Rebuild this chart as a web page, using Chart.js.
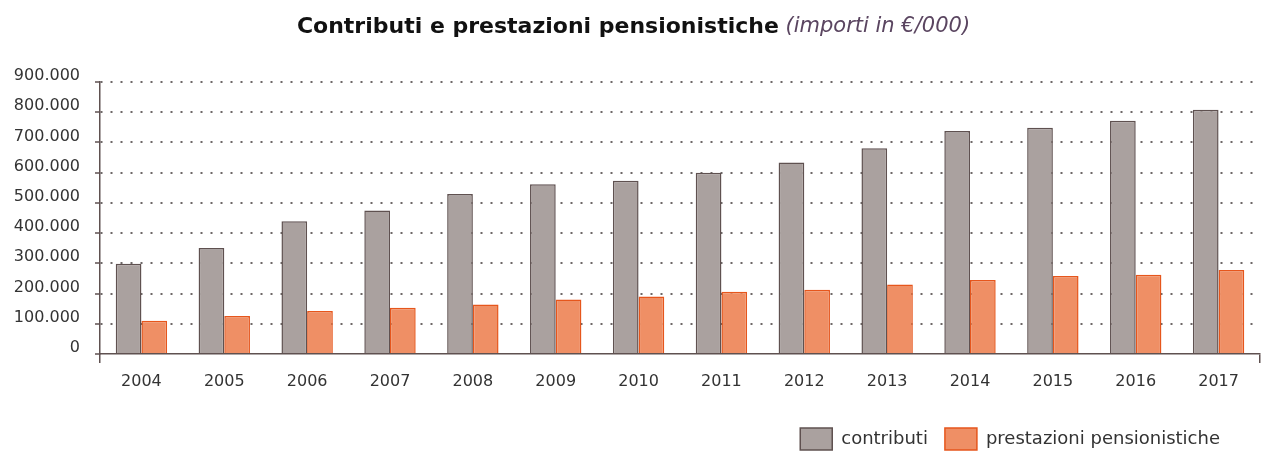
<!DOCTYPE html>
<html>
<head>
<meta charset="utf-8">
<script src="https://cdn.jsdelivr.net/npm/chart.js"></script>
<style>
  html, body { margin: 0; padding: 0; background: #fff; }
</style>
</head>
<body>
<canvas id="chart" width="1267" height="455"></canvas>
<script>
// dati (importi in €/000)
const anni = ['2004', '2005', '2006', '2007', '2008', '2009', '2010', '2011', '2012', '2013', '2014', '2015', '2016', '2017'];
const contributi = [299000, 351000, 439000, 475000, 529000, 562000, 573000, 600000, 634000, 681000, 738000, 749000, 772000, 808000];
const prestazioni = [110000, 126000, 142000, 153000, 164000, 180000, 190000, 206000, 213000, 230000, 245000, 258000, 262000, 278000];
const yTicks = [0, 100000, 200000, 300000, 400000, 500000, 600000, 700000, 800000, 900000];

const font = 'DejaVu Sans';
const scuro = '#5f5150';

// punto come separatore delle migliaia
const migliaia = (v) => String(v).replace(/\B(?=(\d{3})+(?!\d))/g, '.');

// titolo con parte in corsivo
const titolo = {
    id: 'titolo',
    afterDraw(chart) {
        const { ctx } = chart;
        const parte1 = 'Contributi e prestazioni pensionistiche';
        const parte2 = ' (importi in €/000)';
        ctx.save();
        ctx.textBaseline = 'middle';
        ctx.font = 'bold 22px "' + font + '"';
        const w1 = ctx.measureText(parte1).width;
        ctx.font = 'italic 21px "' + font + '"';
        const w2 = ctx.measureText(parte2).width;
        let x = (chart.width - w1 - w2) / 2;
        ctx.font = 'bold 22px "' + font + '"';
        ctx.fillStyle = '#111';
        ctx.fillText(parte1, x, 27);
        ctx.font = 'italic 21px "' + font + '"';
        ctx.fillStyle = '#5a4560';
        ctx.fillText(parte2, x + w1, 27);
        ctx.restore();
    }
}

// legenda un po' piu in basso
const legendMargin = {
    id: 'legendMargin',
    beforeInit(chart) {
        const fitValue = chart.legend.fit;
        chart.legend.fit = function fit() {
            fitValue.bind(chart.legend)();
            this.height -= 5;
        }
    },
    afterLayout(chart) {
        chart.legend.right -= 23;
    }
}

const config = {
    type: 'bar',
    data: {
        labels: anni,
        datasets: [{
            label: 'contributi',
            data: contributi,
            backgroundColor: '#aaa19f',
            borderColor: scuro,
            borderWidth: 1.5
        }, {
            label: 'prestazioni pensionistiche',
            data: prestazioni,
            backgroundColor: '#ef8f65',
            borderColor: '#e6561c',
            borderWidth: 1.5
        }]
    },
    options: {
        responsive: false,
        animation: false,
        layout: {
            padding: { top: 82, right: 7, bottom: 0, left: 0 }
        },
        datasets: {
            bar: { categoryPercentage: 0.62, barPercentage: 1 }
        },
        scales: {
            x: {
                afterFit(scale) { scale.height = 57; },
                grid: {
                    drawOnChartArea: false,
                    offset: true,
                    tickLength: 9,
                    lineWidth: 1.5,
                    color: (c) => (c.index === 0 || c.index === undefined) ? scuro : 'rgba(0,0,0,0)'
                },
                border: { color: scuro, width: 1.5 },
                ticks: {
                    color: '#333',
                    padding: 9,
                    font: { family: font, size: 16 }
                }
            },
            y: {
                min: 0,
                max: 900000,
                afterBuildTicks(scale) { scale.ticks = yTicks.map(v => ({ value: v })); },
                afterFit(scale) { scale.width = 100; },
                grid: {
                    color: (c) => c.tick && c.tick.value === 0 ? 'rgba(0,0,0,0)' : '#6e6868',
                    lineWidth: 2,
                    tickLength: 5,
                    tickColor: scuro,
                    tickWidth: 1.5
                },
                border: { color: scuro, width: 1.5, dash: [2, 8] },
                ticks: {
                    color: '#333',
                    padding: 15,
                    labelOffset: -6,
                    font: { family: font, size: 16 },
                    callback: (v) => migliaia(v)
                }
            }
        },
        plugins: {
            legend: {
                position: 'bottom',
                align: 'end',
                labels: {
                    boxWidth: 32,
                    boxHeight: 22,
                    padding: 17,
                    color: '#333',
                    font: { family: font, size: 18 }
                }
            },
            tooltip: { enabled: false }
        }
    },
    plugins: [titolo, legendMargin]
}

var chart = document.getElementById('chart');
var myChart = new Chart(chart, config);
</script>
</body>
</html>
